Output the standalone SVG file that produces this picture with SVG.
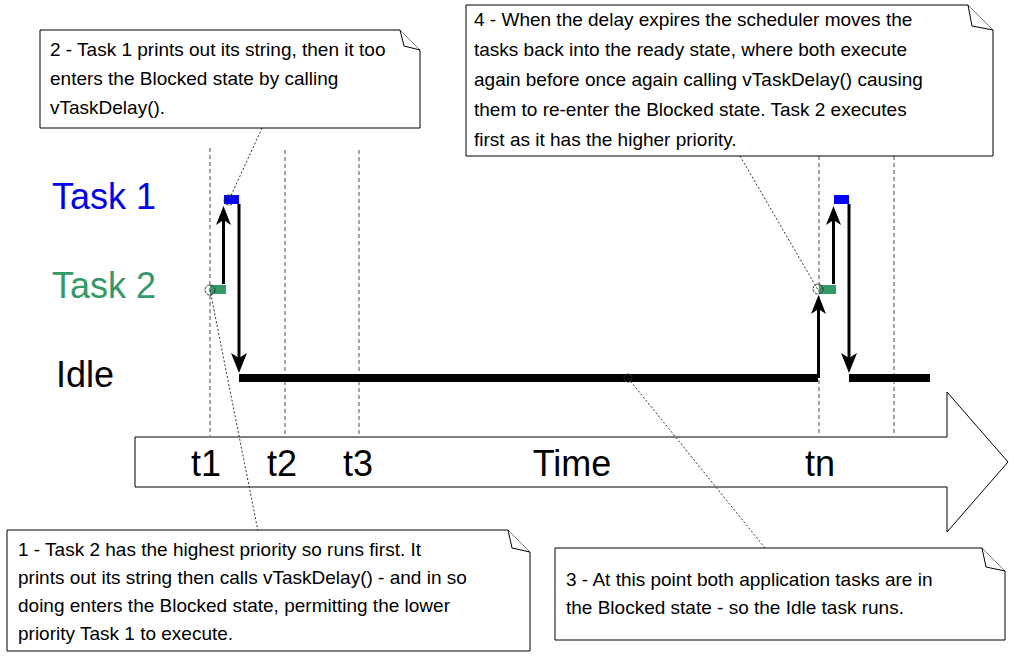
<svg xmlns="http://www.w3.org/2000/svg" width="1014" height="658" viewBox="0 0 1014 658">
<style>
text{font-family:"Liberation Sans",Arial,sans-serif;}
.note{fill:#fff;stroke:#000;stroke-width:1}
.nt{font-size:19px;fill:#000}
.grid{stroke:#888;stroke-width:1.5;stroke-dasharray:4,3}
.lead{stroke:#333;stroke-width:1;stroke-dasharray:2,2;fill:none}
.circ{fill:none;stroke:#333;stroke-width:1;stroke-dasharray:3,1}
.arr{stroke:#000;stroke-width:3;fill:none}
.head{fill:#000}
</style>
<rect width="1014" height="658" fill="#fff"/>
<g id="timearrow"><polygon points="135,437 947,437 947,392 1008,462 947,532 947,487 135,487" fill="#fff" stroke="#000" stroke-width="1"/>
<text x="206" y="476" font-size="36" text-anchor="middle">t1</text>
<text x="282" y="476" font-size="36" text-anchor="middle">t2</text>
<text x="358" y="476" font-size="36" text-anchor="middle">t3</text>
<text x="572" y="476" font-size="36" text-anchor="middle">Time</text>
<text x="820" y="476" font-size="36" text-anchor="middle">tn</text></g>
<g id="grid">
<line class="grid" x1="210" y1="148" x2="210" y2="438"/>
<line class="grid" x1="285" y1="150" x2="285" y2="438"/>
<line class="grid" x1="359" y1="150" x2="359" y2="438"/>
<line class="grid" x1="819" y1="156" x2="819" y2="438"/>
<line class="grid" x1="894" y1="156" x2="894" y2="438"/>
</g>
<g id="labels">
<text x="52" y="209" font-size="36" fill="#0000ee">Task 1</text>
<text x="52" y="298" font-size="36" fill="#339966">Task 2</text>
<text x="56" y="387" font-size="36" fill="#000">Idle</text>
</g>
<g id="bars">
<rect x="224" y="195" width="15" height="9" fill="#0000ff"/>
<rect x="210" y="285" width="16" height="9" fill="#339966"/>
<rect x="239" y="374" width="579" height="8" fill="#000"/>
<rect x="819" y="285" width="17" height="9" fill="#339966"/>
<rect x="834" y="195" width="15" height="9" fill="#0000ff"/>
<rect x="849" y="374" width="81" height="8" fill="#000"/>
</g>
<g id="connectors">
<line class="arr" x1="223.5" y1="284" x2="223.5" y2="215"/>
<polygon class="head" points="223.5,206 231,225 223.5,220 216,225"/>
<line class="arr" x1="239" y1="204" x2="239" y2="360"/>
<polygon class="head" points="239,373 247,353 239,358 231,353"/>
<line class="arr" x1="818.5" y1="378" x2="818.5" y2="305"/>
<polygon class="head" points="818.5,295 826,314 818.5,309 811,314"/>
<line class="arr" x1="833.5" y1="284" x2="833.5" y2="215"/>
<polygon class="head" points="833.5,206 841,225 833.5,220 826,225"/>
<line class="arr" x1="849" y1="204" x2="849" y2="360"/>
<polygon class="head" points="849,373 857,353 849,358 841,353"/>
<line class="lead" x1="262" y1="128" x2="229" y2="200"/>
<line class="lead" x1="258" y1="531" x2="210" y2="290"/>
<line class="lead" x1="765" y1="548" x2="628" y2="378"/>
<line class="lead" x1="740" y1="156" x2="818" y2="290"/>
<circle class="circ" cx="229" cy="200" r="5"/>
<circle class="circ" cx="210" cy="290" r="5"/>
<circle class="circ" cx="628" cy="378" r="4"/>
<circle class="circ" cx="818" cy="289" r="5"/>
</g>
<g id="note2"><path class="note" d="M40,30H400L420,50V128H40Z"/><path class="note" d="M400,30L404,46L420,50"/>
<text class="nt" x="50" y="56">2 - Task 1 prints out its string, then it too</text>
<text class="nt" x="50" y="85">enters the Blocked state by calling</text>
<text class="nt" x="50" y="114">vTaskDelay().</text></g>
<g id="note4"><path class="note" d="M466,5H968L993,30V156H466Z"/><path class="note" d="M968,5L972,26L993,30"/>
<text class="nt" x="474" y="26">4 - When the delay expires the scheduler moves the</text>
<text class="nt" x="474" y="56">tasks back into the ready state, where both execute</text>
<text class="nt" x="474" y="86">again before once again calling vTaskDelay() causing</text>
<text class="nt" x="474" y="116">them to re-enter the Blocked state.  Task 2 executes</text>
<text class="nt" x="474" y="146">first as it has the higher priority.</text></g>
<g id="note1"><path class="note" d="M7,530H508L530,552V651H7Z"/><path class="note" d="M508,530L512,548L530,552"/>
<text class="nt" x="18" y="556">1 - Task 2 has the highest priority so runs first.  It</text>
<text class="nt" x="18" y="584">prints out its string then calls vTaskDelay() - and in so</text>
<text class="nt" x="18" y="612">doing enters the Blocked state, permitting the lower</text>
<text class="nt" x="18" y="640">priority Task 1 to execute.</text></g>
<g id="note3"><path class="note" d="M555,548H982L1005,571V640H555Z"/><path class="note" d="M982,548L986,567L1005,571"/>
<text class="nt" x="566" y="586">3 - At this point both application tasks are in</text>
<text class="nt" x="566" y="614">the Blocked state - so the Idle task runs.</text></g>
</svg>
